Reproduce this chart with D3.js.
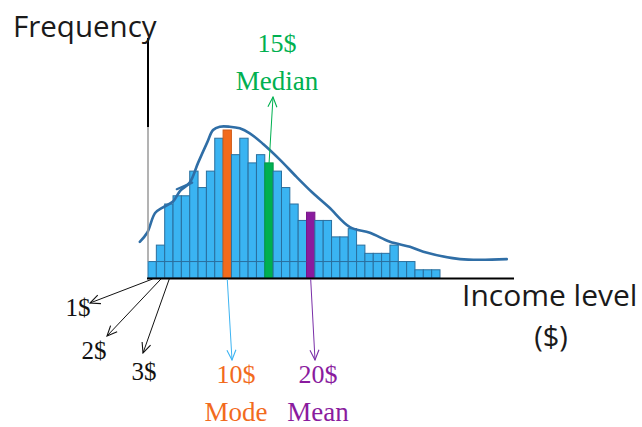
<!DOCTYPE html>
<html lang="en">
<head>
  <meta charset="UTF-8">
  <title>Income distribution</title>
  <style>
    body { margin: 0; background: #fff; }
    .sans { font-family: "Open Sans", sans-serif; fill: #1a1a1a; }
    .serif { font-family: "Liberation Serif", serif; }
  </style>
</head>
<body>
  <svg id="chart" width="642" height="427"></svg>

  <script src="https://d3js.org/d3.v7.min.js"></script>
  <script>
    // income level in $ (one bar each) and how often it occurs
    const incomes = [1, 2, 3, 4, 5, 6, 7, 8, 9, 10, 11, 12, 13, 14, 15, 16, 17, 18,
                     19, 20, 21, 22, 23, 24, 25, 26, 27, 28, 29, 30, 31, 32, 33, 34, 35];
    const frequencies = [2, 4, 9, 10, 10, 13, 11, 13, 17, 18, 15, 17, 14, 15, 14, 13, 11, 9,
                         7, 8, 7, 7, 5, 5, 6, 4, 3, 3, 3, 4, 2, 2, 1, 1, 1];

    // hand drawn smooth curve over the bars (x in bar widths, y in frequency)
    const curveX = [-0.98, -0.1, 0.85, 1.8, 3.0, 3.85, 5.0, 6.0, 7.1, 7.8, 8.6, 9.8, 11.0,
                    12.2, 13.8, 15.8, 17.8, 19.7, 21.7, 24.2, 26.6, 29.0, 31.4, 33.0, 37.4, 43.0];
    const curveY = [4.4, 5.5, 7.9, 8.6, 9.3, 10.6, 11.6, 14.0, 16.5, 18.0, 18.4, 18.4, 18.2,
                    17.6, 16.3, 14.4, 12.3, 10.4, 8.6, 6.2, 5.5, 4.4, 3.8, 3.2, 2.3, 2.3];
    const extraX = [3.45, 5.3];
    const extraY = [10.8, 11.6];

    const statNames = ["Mode", "Median", "Mean"];
    const statValues = [10, 15, 20];
    const statColors = ["#f26b1d", "#00b050", "#8a1b9e"];
    const arrowColors = ["#3db4f2", "#00b050", "#7a2fa8"];
    const tickLabels = ["1$", "2$", "3$"];

    const svg = d3.select("#chart");

    const x = d3.scaleBand()
      .domain(incomes)
      .range([148, 440])
      .padding(0);

    const y = d3.scaleLinear()
      .domain([0, 18])
      .range([278, 130]);

    const xc = d3.scaleLinear()
      .domain([0, incomes.length])
      .range(x.range());

    // arrow heads
    const defs = svg.append("defs");
    function marker(id, color) {
      defs.append("marker")
        .attr("id", id)
        .attr("viewBox", "-1 -6 12 12")
        .attr("refX", 10)
        .attr("refY", 0)
        .attr("markerWidth", 12)
        .attr("markerHeight", 12)
        .attr("markerUnits", "userSpaceOnUse")
        .attr("orient", "auto")
        .append("path")
        .attr("d", "M0,-4.5L10,0L0,4.5")
        .attr("fill", "none")
        .attr("stroke", color)
        .attr("stroke-width", 1.1);
    }
    marker("head-black", "#111");
    arrowColors.forEach((c, i) => marker("head-" + i, c));

    // bars
    const colorOf = d => {
      const k = statValues.indexOf(d);
      return k < 0 ? null : statColors[k];
    };

    svg.append("g").selectAll("rect")
      .data(incomes)
      .enter()
      .append("rect")
      .attr("x", d => x(d))
      .attr("y", (d, i) => y(frequencies[i]))
      .attr("width", x.bandwidth())
      .attr("height", (d, i) => y(0) - y(frequencies[i]))
      .attr("fill", d => colorOf(d) || "#3ab4f2")
      .attr("stroke", d => colorOf(d) ? d3.color(colorOf(d)).darker(0.4) : "#2a6f9e")
      .attr("stroke-width", 1);

    // the low row line that runs through the bars
    svg.append("g").selectAll("line")
      .data(incomes.filter((d, i) => frequencies[i] > 2 && !colorOf(d)))
      .enter()
      .append("line")
      .attr("x1", d => x(d))
      .attr("x2", d => x(d) + x.bandwidth())
      .attr("y1", y(2))
      .attr("y2", y(2))
      .attr("stroke", "#2a6f9e")
      .attr("stroke-width", 1);

    // smooth curve
    const line = d3.line()
      .x(d => xc(d[0]))
      .y(d => y(d[1]))
      .curve(d3.curveCatmullRom.alpha(0.5));

    svg.append("path")
      .datum(curveX.map((v, i) => [v, curveY[i]]))
      .attr("d", line)
      .attr("fill", "none")
      .attr("stroke", "#2f6ea6")
      .attr("stroke-width", 2.6)
      .attr("stroke-linecap", "round");

    svg.append("path")
      .datum(extraX.map((v, i) => [v, extraY[i]]))
      .attr("d", line)
      .attr("fill", "none")
      .attr("stroke", "#2f6ea6")
      .attr("stroke-width", 2.2)
      .attr("stroke-linecap", "round");

    // axes
    const x0 = x.range()[0];
    svg.append("line")
      .attr("x1", x0).attr("x2", x0)
      .attr("y1", 127).attr("y2", y(2))
      .attr("stroke", "#9a9a9a").attr("stroke-width", 1.5);
    svg.append("line")
      .attr("x1", x0).attr("x2", x0)
      .attr("y1", 38).attr("y2", 127)
      .attr("stroke", "#000").attr("stroke-width", 2);
    svg.append("line")
      .attr("x1", x0 - 1).attr("x2", 514)
      .attr("y1", y(0) + 0.5).attr("y2", y(0) + 0.5)
      .attr("stroke", "#000").attr("stroke-width", 2);

    svg.append("text").attr("class", "sans")
      .attr("x", 13).attr("y", 37)
      .attr("font-size", 29.5)
      .text("Frequency");
    svg.append("text").attr("class", "sans")
      .attr("x", 462).attr("y", 306)
      .attr("font-size", 30)
      .text("Income level");
    svg.append("text").attr("class", "sans")
      .attr("x", 551).attr("y", 347)
      .attr("text-anchor", "middle")
      .attr("font-size", 29)
      .text("($)");

    // 1$, 2$, 3$ pointers
    const tickEnds = [[90, 303], [107, 336], [143, 353]];
    const tickText = [[78, 316], [94, 359], [144, 380]];
    tickLabels.forEach((t, i) => {
      svg.append("line")
        .attr("x1", x(incomes[i]) + x.bandwidth() * 0.55)
        .attr("y1", y(0) + 1)
        .attr("x2", tickEnds[i][0]).attr("y2", tickEnds[i][1])
        .attr("stroke", "#111").attr("stroke-width", 1)
        .attr("marker-end", "url(#head-black)");
      svg.append("text").attr("class", "serif")
        .attr("x", tickText[i][0]).attr("y", tickText[i][1])
        .attr("text-anchor", "middle")
        .attr("font-size", 25)
        .attr("fill", "#111")
        .text(t);
    });

    // mode / median / mean annotations
    const statArrowEnd = [[232, 360], [273, 97], [315, 360]];
    const statValueY = [383, 52, 383];
    const statNameY = [421, 90, 421];
    const statTextX = [236, 277, 318];
    statNames.forEach((name, i) => {
      const v = statValues[i];
      const fi = incomes.indexOf(v);
      const cx = x(v) + x.bandwidth() / 2;
      const up = i === 1;
      svg.append("line")
        .attr("x1", cx).attr("y1", up ? y(frequencies[fi]) + 2 : y(0) + 1)
        .attr("x2", statArrowEnd[i][0]).attr("y2", statArrowEnd[i][1])
        .attr("stroke", arrowColors[i]).attr("stroke-width", 1)
        .attr("marker-end", "url(#head-" + i + ")");
      svg.append("text").attr("class", "serif")
        .attr("x", statTextX[i]).attr("y", statValueY[i])
        .attr("text-anchor", "middle")
        .attr("font-size", 26)
        .attr("fill", statColors[i])
        .text(v + "$");
      svg.append("text").attr("class", "serif")
        .attr("x", statTextX[i]).attr("y", statNameY[i])
        .attr("text-anchor", "middle")
        .attr("font-size", 27)
        .attr("fill", statColors[i])
        .text(name);
    });
  </script>
</body>
</html>
